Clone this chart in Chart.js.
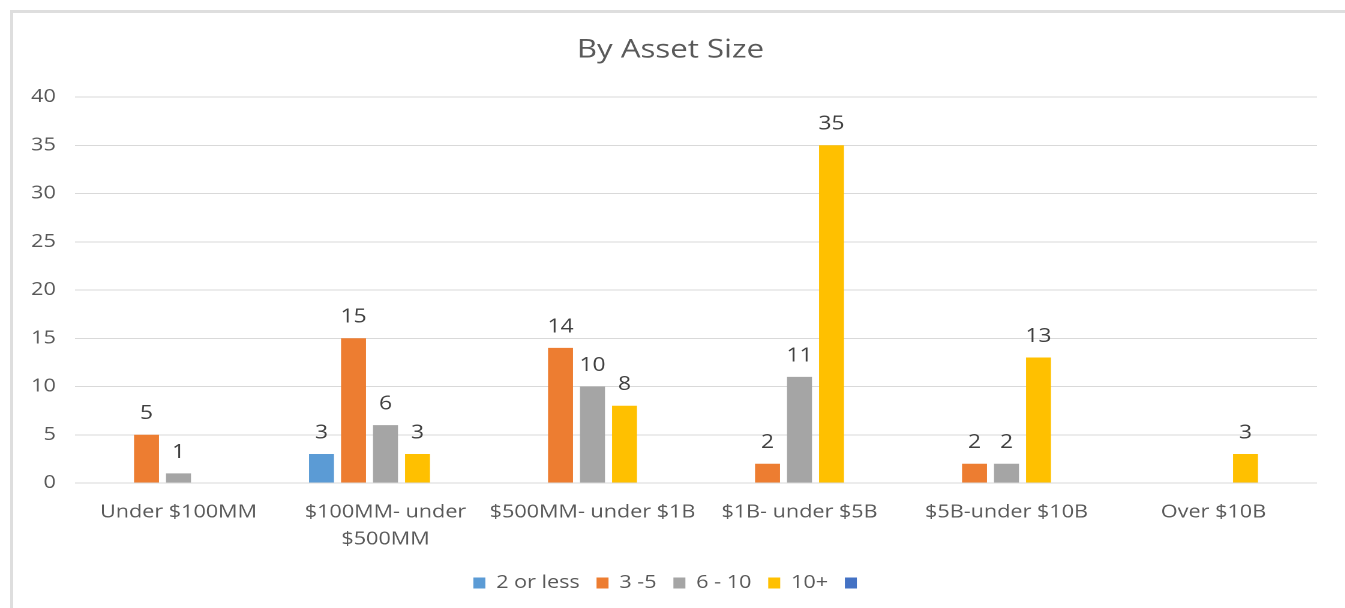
<!DOCTYPE html>
<html>
<head>
<meta charset="utf-8">
<script src="https://cdn.jsdelivr.net/npm/chart.js@4.4.0/dist/chart.umd.min.js"></script>
<style>
  html, body { margin: 0; padding: 0; background: #fff; overflow: hidden; }
  body { width: 1345px; height: 608px; position: relative; }
  #frame {
    position: absolute; left: 10px; top: 10px;
    width: 1400px; height: 700px;
    border: 3px solid #dedede;
  }
  /* the source picture is stretched sideways, so stretch the canvas the same way */
  #wrap {
    position: absolute; left: 0; top: 0;
    width: 1121px; height: 608px;
    transform: scaleX(1.2); transform-origin: 0 0;
  }
</style>
</head>
<body>
<div id="frame"></div>
<div id="wrap"><canvas id="myChart" width="1121" height="608"></canvas></div>
<script>
// categories and series
const categories = [
    'Under $100MM',
    ['$100MM- under', '$500MM'],
    '$500MM- under $1B',
    '$1B- under $5B',
    '$5B-under $10B',
    'Over $10B'
];
const twoOrLess = [0, 3, 0, 0, 0, 0];
const threeToFive = [5, 15, 14, 2, 2, 0];
const sixToTen = [1, 6, 10, 11, 2, 0];
const tenPlus = [0, 3, 8, 35, 13, 3];
const unnamed = [0, 0, 0, 0, 0, 0];

const font = '"Open Sans", "DejaVu Sans", sans-serif';

// value labels above the bars (zero values are left out)
const barLabels = {
    id: 'barLabels',
    afterDatasetsDraw(chart) {
        const ctx = chart.ctx;
        ctx.save();
        ctx.font = '19px ' + font;
        ctx.fillStyle = '#404040';
        ctx.textAlign = 'center';
        ctx.textBaseline = 'middle';
        chart.data.datasets.forEach((ds, i) => {
            chart.getDatasetMeta(i).data.forEach((bar, j) => {
                if (ds.data[j] > 0) {
                    ctx.fillText(ds.data[j], bar.x, bar.y - 21);
                }
            });
        });
        ctx.restore();
    }
};

const ctx = document.getElementById('myChart').getContext('2d');

const myChart = new Chart(ctx, {
    type: 'bar',
    data: {
        labels: categories,
        datasets: [
            { label: '2 or less', data: twoOrLess, backgroundColor: '#5B9BD5' },
            { label: '3 -5', data: threeToFive, backgroundColor: '#ED7D31' },
            { label: '6 - 10', data: sixToTen, backgroundColor: '#A5A5A5' },
            { label: '10+', data: tenPlus, backgroundColor: '#FFC000' },
            { label: '', data: unnamed, backgroundColor: '#4472C4' }
        ]
    },
    options: {
        responsive: false,
        animation: false,
        devicePixelRatio: 2,
        categoryPercentage: 0.773,
        barPercentage: 0.78,
        layout: {
            padding: { left: 20, right: 23.5, top: 10, bottom: 6 }
        },
        plugins: {
            title: {
                display: true,
                text: 'By Asset Size',
                color: '#595959',
                font: { family: font, size: 26, weight: 'normal' },
                padding: { top: 24.5, bottom: 31.3 }
            },
            legend: {
                position: 'bottom',
                labels: {
                    color: '#595959',
                    font: { family: font, size: 18 },
                    boxWidth: 10,
                    boxHeight: 11,
                    padding: 14
                }
            },
            tooltip: { enabled: false }
        },
        scales: {
            x: {
                grid: { display: false },
                border: { display: false },
                ticks: {
                    color: '#595959',
                    font: { family: font, size: 18, lineHeight: 1.5 },
                    padding: 8,
                    maxRotation: 0,
                    autoSkip: false
                },
                afterFit(scale) { scale.height = 77; }
            },
            y: {
                min: 0,
                max: 40,
                grid: { color: '#D9D9D9', drawTicks: false },
                border: { display: false },
                ticks: {
                    stepSize: 5,
                    color: '#595959',
                    font: { family: font, size: 18 },
                    padding: 16
                },
                afterFit(scale) { scale.width = 42.5; }
            }
        }
    },
    plugins: [barLabels]
});
</script>
</body>
</html>
